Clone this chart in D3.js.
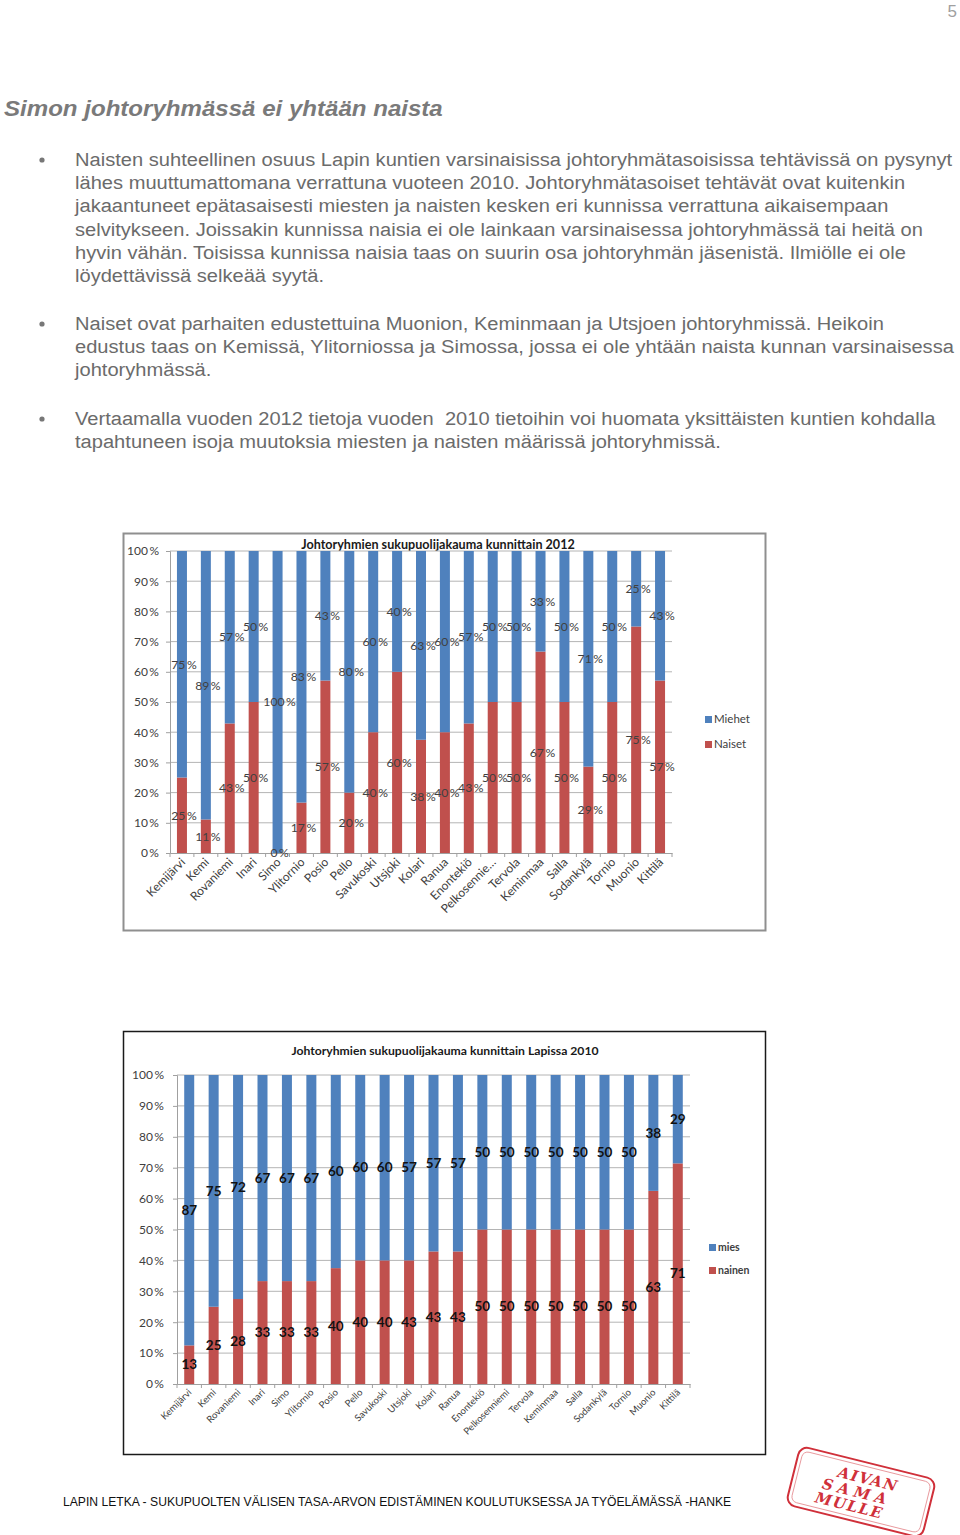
<!DOCTYPE html>
<html><head><meta charset="utf-8">
<script src="https://cdn.jsdelivr.net/npm/d3@7/dist/d3.min.js"></script>
<style>
html,body{margin:0;padding:0;background:#fff;}
svg{display:block;}
</style></head>
<body>
<svg id="page" width="960" height="1535"></svg>
<script>
// ---------- DATA ----------
const categories2012 = ["Kemijärvi","Kemi","Rovaniemi","Inari","Simo","Ylitornio","Posio","Pello","Savukoski","Utsjoki","Kolari","Ranua","Enontekiö","Pelkosennie…","Tervola","Keminmaa","Salla","Sodankylä","Tornio","Muonio","Kittilä"];
const naiset2012 = [25, 11.1, 42.9, 50, 0, 16.7, 57.1, 20, 40, 60, 37.5, 40, 42.9, 50, 50, 66.7, 50, 28.6, 50, 75, 57.1];
const miehet2012 = [75, 88.9, 57.1, 50, 100, 83.3, 42.9, 80, 60, 40, 62.5, 60, 57.1, 50, 50, 33.3, 50, 71.4, 50, 25, 42.9];

const categories2010 = ["Kemijärvi","Kemi","Rovaniemi","Inari","Simo","Ylitornio","Posio","Pello","Savukoski","Utsjoki","Kolari","Ranua","Enontekiö","Pelkosenniemi","Tervola","Keminmaa","Salla","Sodankylä","Tornio","Muonio","Kittilä"];
const nainen2010 = [12.5, 25, 27.5, 33.3, 33.3, 33.3, 37.5, 40, 40, 40, 42.9, 42.9, 50, 50, 50, 50, 50, 50, 50, 62.5, 71.4];
const mies2010 = [87.5, 75, 72.5, 66.7, 66.7, 66.7, 62.5, 60, 60, 60, 57.1, 57.1, 50, 50, 50, 50, 50, 50, 50, 37.5, 28.6];
const miesLabels2010 = [87, 75, 72, 67, 67, 67, 60, 60, 60, 57, 57, 57, 50, 50, 50, 50, 50, 50, 50, 38, 29];
const nainenLabels2010 = [13, 25, 28, 33, 33, 33, 40, 40, 40, 43, 43, 43, 50, 50, 50, 50, 50, 50, 50, 63, 71];

const yTicks = [0, 10, 20, 30, 40, 50, 60, 70, 80, 90, 100];

const pageTitle = "Simon johtoryhmässä ei yhtään naista";
const bullets = [
  ["Naisten suhteellinen osuus Lapin kuntien varsinaisissa johtoryhmätasoisissa tehtävissä on pysynyt",
   "lähes muuttumattomana verrattuna vuoteen 2010. Johtoryhmätasoiset tehtävät ovat kuitenkin",
   "jakaantuneet epätasaisesti miesten ja naisten kesken eri kunnissa verrattuna aikaisempaan",
   "selvitykseen. Joissakin kunnissa naisia ei ole lainkaan varsinaisessa johtoryhmässä tai heitä on",
   "hyvin vähän. Toisissa kunnissa naisia taas on suurin osa johtoryhmän jäsenistä. Ilmiölle ei ole",
   "löydettävissä selkeää syytä."],
  ["Naiset ovat parhaiten edustettuina Muonion, Keminmaan ja Utsjoen johtoryhmissä. Heikoin",
   "edustus taas on Kemissä, Ylitorniossa ja Simossa, jossa ei ole yhtään naista kunnan varsinaisessa",
   "johtoryhmässä."],
  ["Vertaamalla vuoden 2012 tietoja vuoden  2010 tietoihin voi huomata yksittäisten kuntien kohdalla",
   "tapahtuneen isoja muutoksia miesten ja naisten määrissä johtoryhmissä."]
];
const footerText = "LAPIN LETKA - SUKUPUOLTEN VÄLISEN TASA-ARVON EDISTÄMINEN KOULUTUKSESSA JA TYÖELÄMÄSSÄ -HANKE";

// ---------- STYLE ----------
const BLUE = "#4F81BD", RED = "#C0504D";
const svg = d3.select("#page");
svg.append("rect").attr("width", 960).attr("height", 1535).attr("fill", "#fff");

// page number
svg.append("text").attr("x", 957).attr("y", 17).attr("text-anchor", "end")
  .attr("font-family", "Liberation Sans, Arial, sans-serif").attr("font-size", 17).attr("fill", "#a0a0a0").text("5");

// title
svg.append("g").attr("transform", "translate(4,116) scale(1.07,1)")
  .append("text").attr("x", 0).attr("y", 0)
  .attr("font-family", "Liberation Sans, Arial, sans-serif").attr("font-size", 22.5)
  .attr("font-weight", "bold").attr("font-style", "italic").attr("fill", "#7a7a7a").text(pageTitle);

// bullets
const bulletStarts = [166, 330, 425];
bullets.forEach((lines, bi) => {
  svg.append("circle").attr("cx", 42).attr("cy", bulletStarts[bi] - 6).attr("r", 2.6).attr("fill", "#777");
  const tg = svg.append("g").attr("transform", `translate(75,${bulletStarts[bi]}) scale(1.07,1)`);
  lines.forEach((ln, li) => {
    tg.append("text").attr("x", 0).attr("y", li * 23.2)
      .attr("font-family", "Liberation Sans, Arial, sans-serif").attr("font-size", 18.8)
      .attr("fill", "#6b6b6b").attr("xml:space", "preserve").style("white-space", "pre").text(ln);
  });
});

// ---------- CHART DRAWER ----------
function drawChart(cfg) {
  const g = svg.append("g");
  g.append("rect").attr("x", cfg.frame[0]).attr("y", cfg.frame[1]).attr("width", cfg.frame[2]).attr("height", cfg.frame[3])
    .attr("fill", "#fff").attr("stroke", cfg.frameColor).attr("stroke-width", cfg.frameWidth);
  g.append("text").attr("x", cfg.titleX).attr("y", cfg.titleY).attr("text-anchor", "middle")
    .attr("font-family", "Lato, 'Open Sans', sans-serif").attr("font-weight", "bold").attr("font-size", cfg.titleSize)
    .attr("fill", "#1a1a1a").text(cfg.title);

  const x = d3.scaleBand().domain(cfg.categories).range([cfg.x0, cfg.x1]).paddingInner(0).paddingOuter(0);
  const y = d3.scaleLinear().domain([0, 100]).range([cfg.y0, cfg.y1]);
  const bw = cfg.barWidth;

  g.append("g").selectAll("line").data(yTicks.filter(t => t > 0)).join("line")
    .attr("x1", cfg.x0).attr("x2", cfg.x1).attr("y1", d => y(d)).attr("y2", d => y(d))
    .attr("stroke", "#b4b4b4").attr("stroke-width", 1);

  const ya = d3.axisLeft(y).tickValues(yTicks).tickFormat(d => d + "\u2009%").tickSize(4).tickPadding(cfg.yPad);
  const yg = g.append("g").attr("transform", `translate(${cfg.x0},0)`).call(ya);
  yg.select(".domain").attr("stroke", "#a0a0a0");
  yg.selectAll(".tick line").attr("stroke", "#a0a0a0");
  yg.selectAll("text").attr("font-family", "Lato, 'Open Sans', sans-serif").attr("font-size", cfg.yFont).attr("fill", "#404040");

  const idx = d3.range(cfg.categories.length);
  g.append("g").selectAll("rect").data(idx).join("rect")
    .attr("x", i => x(cfg.categories[i]) + x.bandwidth() / 2 - bw / 2).attr("width", bw)
    .attr("y", i => y(cfg.women[i])).attr("height", i => y(0) - y(cfg.women[i])).attr("fill", RED);
  g.append("g").selectAll("rect").data(idx).join("rect")
    .attr("x", i => x(cfg.categories[i]) + x.bandwidth() / 2 - bw / 2).attr("width", bw)
    .attr("y", i => y(cfg.women[i] + cfg.men[i])).attr("height", i => y(cfg.women[i]) - y(cfg.women[i] + cfg.men[i])).attr("fill", BLUE);

  const xa = d3.axisBottom(x).tickSize(0).tickFormat("");
  const xg = g.append("g").attr("transform", `translate(0,${cfg.y0})`).call(xa);
  xg.select(".domain").attr("stroke", "#a0a0a0");
  g.append("g").selectAll("line").data(d3.range(cfg.categories.length + 1)).join("line")
    .attr("x1", i => cfg.x0 + i * x.step()).attr("x2", i => cfg.x0 + i * x.step())
    .attr("y1", cfg.y0).attr("y2", cfg.y0 + 4).attr("stroke", "#a0a0a0");
  g.append("g").selectAll("text").data(idx).join("text")
    .attr("transform", i => `translate(${x(cfg.categories[i]) + x.bandwidth() / 2 + cfg.xLabDx},${cfg.y0 + cfg.xLabDy}) rotate(-45)`)
    .attr("text-anchor", "end").attr("font-family", "Lato, 'Open Sans', sans-serif").attr("font-size", cfg.xFont)
    .attr("fill", "#404040").text(i => cfg.categories[i]);

  const lab = g.append("g").attr("font-family", cfg.labFamily).attr("font-size", cfg.labFont)
    .attr("font-weight", cfg.labWeight).attr("fill", cfg.labColor).attr("text-anchor", "middle");
  lab.selectAll("text.m").data(idx).join("text").attr("class", "m")
    .attr("x", i => x(cfg.categories[i]) + x.bandwidth() / 2 + cfg.labDx)
    .attr("y", i => y(cfg.women[i] + cfg.men[i] / 2) + cfg.labFont * 0.35)
    .text(i => cfg.menLabel(i));
  lab.selectAll("text.w").data(idx).join("text").attr("class", "w")
    .attr("x", i => x(cfg.categories[i]) + x.bandwidth() / 2 + cfg.labDx)
    .attr("y", i => y(cfg.women[i] / 2) + cfg.labFont * 0.35)
    .text(i => cfg.womenLabel(i));

  cfg.legend.forEach((L, k) => {
    g.append("rect").attr("x", cfg.legX).attr("y", cfg.legY + k * cfg.legGap - cfg.legSq + 1)
      .attr("width", cfg.legSq).attr("height", cfg.legSq).attr("fill", L[1]);
    g.append("text").attr("x", cfg.legX + cfg.legSq + 2).attr("y", cfg.legY + k * cfg.legGap + 1)
      .attr("font-family", "Lato, 'Open Sans', sans-serif").attr("font-size", cfg.legFont)
      .attr("font-weight", cfg.legWeight).attr("fill", "#404040").text(L[0]);
  });
}

drawChart({
  frame: [123.5, 533.5, 642, 397], frameColor: "#8f8f8f", frameWidth: 2,
  title: "Johtoryhmien sukupuolijakauma kunnittain 2012", titleX: 438, titleY: 549, titleSize: 12.6,
  categories: categories2012, women: naiset2012, men: miehet2012,
  x0: 170, x1: 672, y0: 853, y1: 551, barWidth: 10,
  yPad: 7, yFont: 12, xFont: 12, xLabDx: 4, xLabDy: 10,
  labFamily: "Lato, 'Open Sans', sans-serif", labFont: 12.2, labWeight: "normal", labColor: "#404040", labDx: 2,
  menLabel: i => Math.round(miehet2012[i]) + "\u2009%",
  womenLabel: i => Math.round(naiset2012[i]) + "\u2009%",
  legend: [["Miehet", BLUE], ["Naiset", RED]], legX: 705, legY: 722, legGap: 25, legSq: 7, legFont: 11.5, legWeight: "normal"
});

drawChart({
  frame: [123.5, 1031.5, 642, 423], frameColor: "#1a1a1a", frameWidth: 1.5,
  title: "Johtoryhmien sukupuolijakauma kunnittain Lapissa 2010", titleX: 445, titleY: 1055, titleSize: 12.2,
  categories: categories2010, women: nainen2010, men: mies2010,
  x0: 177, x1: 690, y0: 1384, y1: 1075, barWidth: 10,
  yPad: 9, yFont: 12, xFont: 9.5, xLabDx: 3, xLabDy: 9,
  labFamily: "Lato, 'Open Sans', sans-serif", labFont: 13.5, labWeight: "bold", labColor: "#111", labDx: 0,
  menLabel: i => miesLabels2010[i],
  womenLabel: i => nainenLabels2010[i],
  legend: [["mies", BLUE], ["nainen", RED]], legX: 709, legY: 1250, legGap: 23, legSq: 7, legFont: 10.5, legWeight: "bold"
});

// footer
svg.append("text").attr("x", 63).attr("y", 1506)
  .attr("font-family", "Liberation Sans, Arial, sans-serif").attr("font-size", 12.15).attr("fill", "#111").text(footerText);

// stamp logo
const st = svg.append("g").attr("transform", "translate(861,1492) rotate(14)");
st.append("rect").attr("x", -70).attr("y", -30).attr("width", 140).attr("height", 60).attr("rx", 9)
  .attr("fill", "none").attr("stroke", "#d0303a").attr("stroke-width", 2);
st.append("rect").attr("x", -66).attr("y", -26).attr("width", 132).attr("height", 52).attr("rx", 6)
  .attr("fill", "none").attr("stroke", "#e58a8f").attr("stroke-width", 0.8);
["AIVAN", "SAMA", "MULLE"].forEach((w, k) => {
  st.append("text").attr("x", k === 1 ? -4 : (k === 0 ? 4 : -8)).attr("y", -9 + k * 15).attr("text-anchor", "middle")
    .attr("font-family", "DejaVu Serif, serif").attr("font-weight", "bold").attr("font-style", "italic")
    .attr("font-size", 15).attr("letter-spacing", k === 1 ? 5 : 1.5).attr("fill", "#d0303a").text(w);
});
</script>
</body></html>
